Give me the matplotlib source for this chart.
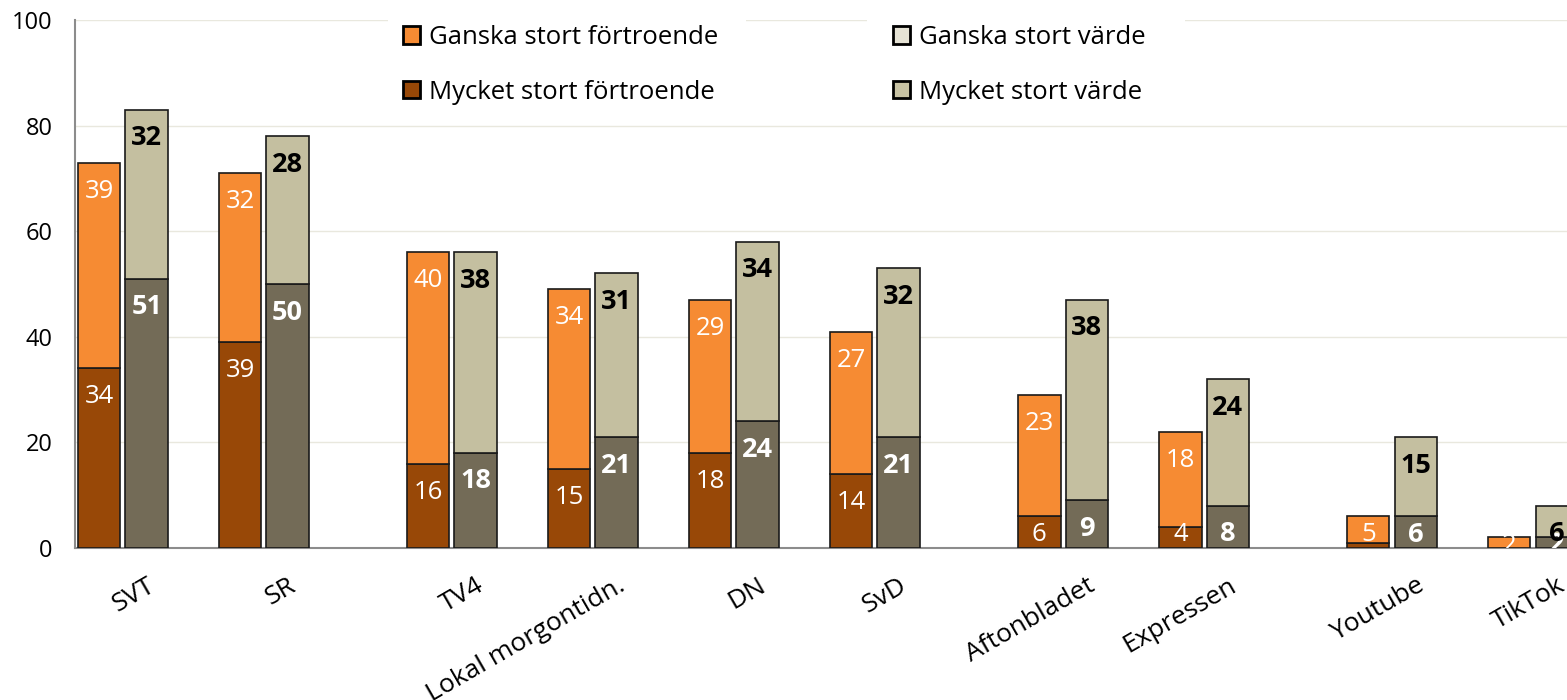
import numpy as np
import matplotlib.pyplot as plt
import matplotlib.transforms as mtransforms
from matplotlib.patches import Patch, Rectangle

plt.rcParams['font.family'] = ['Open Sans', 'DejaVu Sans']

kanaler = ['SVT', 'SR', 'TV4', 'Lokal morgontidn.', 'DN', 'SvD',
           'Aftonbladet', 'Expressen', 'Youtube', 'TikTok']
# gaps between the channel groups
pos = [0, 1, 2.333, 3.333, 4.333, 5.333, 6.667, 7.667, 9, 10]

fortr_mycket = [34, 39, 16, 15, 18, 14, 6, 4, 1, 0]
fortr_ganska = [39, 32, 40, 34, 29, 27, 23, 18, 5, 2]
varde_mycket = [51, 50, 18, 21, 24, 21, 9, 8, 6, 2]
varde_ganska = [32, 28, 38, 31, 34, 32, 38, 24, 15, 6]

c_orange = '#F68B33'
c_brun = '#984807'
c_beige = '#C4BFA0'
c_oliv = '#736B57'

W, H = 1567, 700
fig = plt.figure(figsize=(W/100, H/100), dpi=100)
ax = fig.add_axes([75/W, 152/H, 1 - 75/W, 528/H])

x = np.array(pos)
w = 0.30
off = 0.168

ax.bar(x - off, fortr_mycket, w, color=c_brun, edgecolor='#1a1a1a', lw=1.2, zorder=3)
ax.bar(x - off, fortr_ganska, w, bottom=fortr_mycket, color=c_orange, edgecolor='#1a1a1a', lw=1.2, zorder=3)
ax.bar(x + off, varde_mycket, w, color=c_oliv, edgecolor='#1a1a1a', lw=1.2, zorder=3)
ax.bar(x + off, varde_ganska, w, bottom=varde_mycket, color=c_beige, edgecolor='#1a1a1a', lw=1.2, zorder=3)


def lbl_y(top):
    return max(top - 5.4, min(top - 1.5, 2.5))


fs = 18.5
fsb = 19.5
for i in range(len(x)):
    fm, fg = fortr_mycket[i], fortr_ganska[i]
    vm, vg = varde_mycket[i], varde_ganska[i]
    if fm >= 2:
        ax.text(x[i] - off, lbl_y(fm), str(fm), color='white', fontsize=fs,
                ha='center', va='center', zorder=4, clip_on=True)
    ax.text(x[i] - off, lbl_y(fm + fg), str(fg), color='white', fontsize=fs,
            ha='center', va='center', zorder=4, clip_on=True)
    ax.text(x[i] + off, lbl_y(vm), str(vm), color='white', fontsize=fsb,
            fontweight='bold', ha='center', va='center', zorder=4, clip_on=True)
    ax.text(x[i] + off, lbl_y(vm + vg), str(vg), color='black', fontsize=fsb,
            fontweight='bold', ha='center', va='center', zorder=4, clip_on=True)

ax.set_xlim(-0.34, 10.241)
ax.set_ylim(0, 100)
ax.set_yticks(np.arange(0, 101, 20))
ax.tick_params(axis='y', length=0, labelsize=17, pad=16)
ax.tick_params(axis='x', length=0)
ax.yaxis.grid(True, color='#E9E8DE', lw=1)
ax.set_axisbelow(True)

ax.set_xticks(x)
ax.set_xticklabels(kanaler, rotation=30, fontsize=19, ha='right',
                   rotation_mode='anchor', va='top')
shift = mtransforms.ScaledTranslation(0.24, -0.20, fig.dpi_scale_trans)
for t in ax.get_xticklabels():
    t.set_transform(t.get_transform() + shift)

for s in ['top', 'right']:
    ax.spines[s].set_visible(False)
ax.spines['left'].set_color('#8C8C8C')
ax.spines['bottom'].set_color('#8C8C8C')
ax.spines['left'].set_linewidth(1.5)
ax.spines['bottom'].set_linewidth(1.5)

# white background behind the legend (covers the top gridline)
for x0, x1 in [(388, 746), (867, 1185)]:
    fig.patches.append(Rectangle((x0/W, 1 - 118/H), (x1 - x0)/W, 103/H,
                                 transform=fig.transFigure, facecolor='white',
                                 edgecolor='none', zorder=1))

h_fortr = [Patch(facecolor=c_orange, edgecolor='black', lw=2),
           Patch(facecolor=c_brun, edgecolor='black', lw=2)]
h_varde = [Patch(facecolor='#E6E3D5', edgecolor='black', lw=2),
           Patch(facecolor='#C8C3A4', edgecolor='black', lw=2)]
l_fortr = ['Ganska stort förtroende', 'Mycket stort förtroende']
l_varde = ['Ganska stort värde', 'Mycket stort värde']

for hs, ls, xl in [(h_fortr, l_fortr, 403), (h_varde, l_varde, 893)]:
    fig.legend(hs, ls, loc='upper left', bbox_to_anchor=(xl/W, 1 - 25/H),
               frameon=False, fontsize=18.5, handlelength=0.66,
               handleheight=0.66, handletextpad=0.35, labelspacing=1.15,
               borderpad=0, borderaxespad=0)

plt.savefig('out.png', dpi=100)
